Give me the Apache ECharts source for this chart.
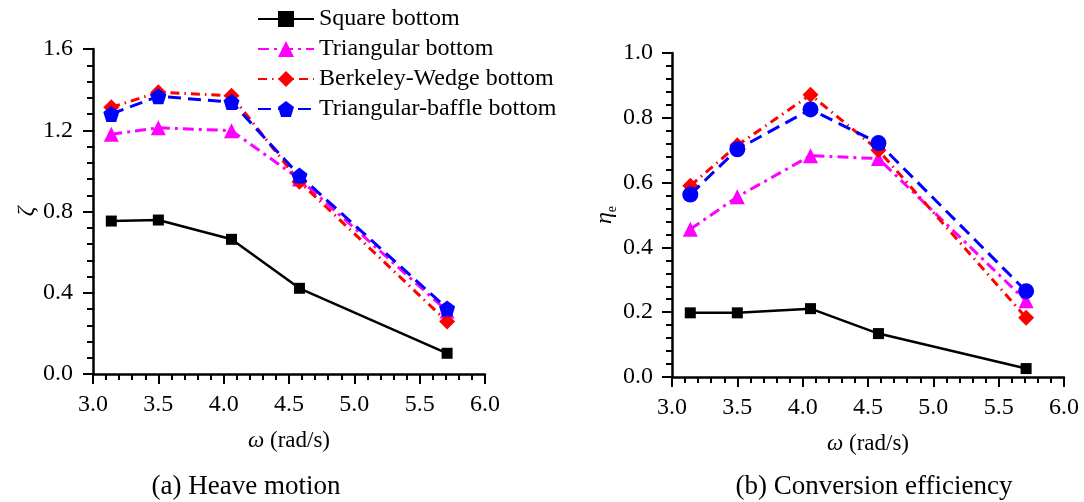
<!DOCTYPE html>
<html>
<head>
<meta charset="utf-8">
<script src="https://cdn.jsdelivr.net/npm/echarts@6/dist/echarts.min.js"></script>
<style>
  html, body { margin: 0; padding: 0; background: #fff; }
  #chart { width: 1084px; height: 502px; }
</style>
</head>
<body>
<div id="chart"></div>
<script>
// Wave frequency (rad/s) shared by both panels
const omega = [3.14, 3.5, 4.06, 4.58, 5.71];

// (a) Heave motion amplitude ratio ζ
const heaveSquare = [0.753, 0.758, 0.663, 0.422, 0.102];
const heaveTriangular = [1.180, 1.212, 1.198, 0.960, 0.310];
const heaveBerkeley = [1.313, 1.387, 1.370, 0.947, 0.258];
const heaveBaffle = [1.280, 1.367, 1.339, 0.977, 0.323];

// (b) Conversion efficiency η_e
const effSquare = [0.198, 0.198, 0.211, 0.134, 0.026];
const effTriangular = [0.456, 0.556, 0.683, 0.674, 0.235];
const effBerkeley = [0.590, 0.715, 0.871, 0.700, 0.183];
const effBaffle = [0.563, 0.703, 0.826, 0.722, 0.265];

const seriesNames = ['Square bottom', 'Triangular bottom', 'Berkeley-Wedge bottom', 'Triangular-baffle bottom'];
const xTicks = ['3.0', '3.5', '4.0', '4.5', '5.0', '5.5', '6.0'];
const captions = ['(a) Heave motion', '(b) Conversion efficiency'];

const FONT = '"Liberation Serif", "Times New Roman", serif';
const pentagon = 'path://M0,-1 L0.951,-0.309 L0.588,0.809 L-0.588,0.809 L-0.951,-0.309 Z';

const styles = [
  { color: '#000000', symbol: 'rect', size: 11, type: 'solid', width: 2.5 },
  { color: '#FF00FF', symbol: 'triangle', size: 15, type: [11, 5, 3, 5], width: 3 },
  { color: '#FF0000', symbol: 'diamond', size: 16, type: [9, 5, 1.5, 5], width: 3 },
  { color: '#0000FF', symbol: pentagon, size: 16, type: [13, 7], width: 3 }
];

function pairs(ys) { return omega.map((x, i) => [x, ys[i]]); }

function makeSeries(name, ys, idx, axisIdx, symbolOverride) {
  const s = styles[idx];
  return {
    name: name,
    type: 'line',
    xAxisIndex: axisIdx,
    yAxisIndex: axisIdx,
    data: pairs(ys),
    symbol: symbolOverride || s.symbol,
    symbolSize: s.size,
    showAllSymbol: true,
    itemStyle: { color: s.color, borderWidth: 0 },
    lineStyle: { color: s.color, width: s.width, type: s.type },
    emphasis: { disabled: true },
    animation: false,
    z: 2 + idx
  };
}

const axisLineStyle = { lineStyle: { color: '#000', width: 2.5 } };
const tickStyle = { show: true, length: 10, lineStyle: { color: '#000', width: 2 } };
const minorTickStyle = { show: true, splitNumber: 5, length: 6, lineStyle: { color: '#000', width: 2 } };
const labelStyle = (margin) => ({
  color: '#000', fontFamily: FONT, fontSize: 24, margin: margin,
  formatter: v => v.toFixed(1)
});

function xAxis(gridIndex) {
  return {
    type: 'value', gridIndex: gridIndex, min: 3, max: 6, interval: 0.5,
    axisLine: axisLineStyle, axisTick: tickStyle, minorTick: minorTickStyle,
    splitLine: { show: false },
    axisLabel: Object.assign(labelStyle(19), { formatter: v => xTicks[Math.round((v - 3) / 0.5)] }),
    name: '{w|ω} (rad/s)', nameLocation: 'middle', nameGap: 55,
    nameTextStyle: {
      color: '#000', fontFamily: FONT, fontSize: 23,
      rich: { w: { fontFamily: FONT, fontSize: 23, fontStyle: 'italic', color: '#000' } }
    }
  };
}

const option = {
  backgroundColor: '#ffffff',
  animation: false,
  grid: [
    { left: 93, top: 49, width: 392, height: 325 },
    { left: 672, top: 53, width: 392, height: 324 }
  ],
  legend: {
    data: seriesNames,
    orient: 'vertical',
    left: 252, top: 2,
    itemWidth: 56, itemHeight: 20, itemGap: 6,
    textStyle: { color: '#000', fontFamily: FONT, fontSize: 24 },
    selectedMode: false
  },
  xAxis: [xAxis(0), xAxis(1)],
  yAxis: [
    {
      type: 'value', gridIndex: 0, min: 0, max: 1.6, interval: 0.4,
      axisLine: axisLineStyle, axisTick: tickStyle, minorTick: minorTickStyle,
      splitLine: { show: false }, axisLabel: labelStyle(20),
      name: 'ζ', nameLocation: 'middle', nameGap: 53, nameRotate: 90,
      nameTextStyle: { color: '#000', fontFamily: FONT, fontSize: 24, fontStyle: 'italic' }
    },
    {
      type: 'value', gridIndex: 1, min: 0, max: 1.0, interval: 0.2,
      axisLine: axisLineStyle, axisTick: tickStyle, minorTick: minorTickStyle,
      splitLine: { show: false }, axisLabel: labelStyle(19),
      name: '{i|η}{s|e}', nameLocation: 'middle', nameGap: 53, nameRotate: 90,
      nameTextStyle: {
        color: '#000', fontFamily: FONT, fontSize: 24,
        rich: {
          i: { fontFamily: FONT, fontSize: 24, fontStyle: 'italic', color: '#000', lineHeight: 28 },
          s: { fontFamily: FONT, fontSize: 14, color: '#000', verticalAlign: 'bottom', lineHeight: 28 }
        }
      }
    }
  ],
  series: [
    makeSeries(seriesNames[0], heaveSquare, 0, 0),
    makeSeries(seriesNames[1], heaveTriangular, 1, 0),
    makeSeries(seriesNames[2], heaveBerkeley, 2, 0),
    makeSeries(seriesNames[3], heaveBaffle, 3, 0),
    makeSeries(seriesNames[0], effSquare, 0, 1),
    makeSeries(seriesNames[1], effTriangular, 1, 1),
    makeSeries(seriesNames[2], effBerkeley, 2, 1),
    makeSeries(seriesNames[3], effBaffle, 3, 1, 'circle')
  ],
  graphic: [
    { type: 'text', x: 246, y: 487, style: { text: captions[0], fill: '#000', font: '27px ' + FONT, textAlign: 'center', textVerticalAlign: 'middle' } },
    { type: 'text', x: 874, y: 487, style: { text: captions[1], fill: '#000', font: '27px ' + FONT, textAlign: 'center', textVerticalAlign: 'middle' } }
  ]
};

const chart = echarts.init(document.getElementById('chart'), null, { renderer: 'canvas' });
chart.setOption(option);
</script>
</body>
</html>
